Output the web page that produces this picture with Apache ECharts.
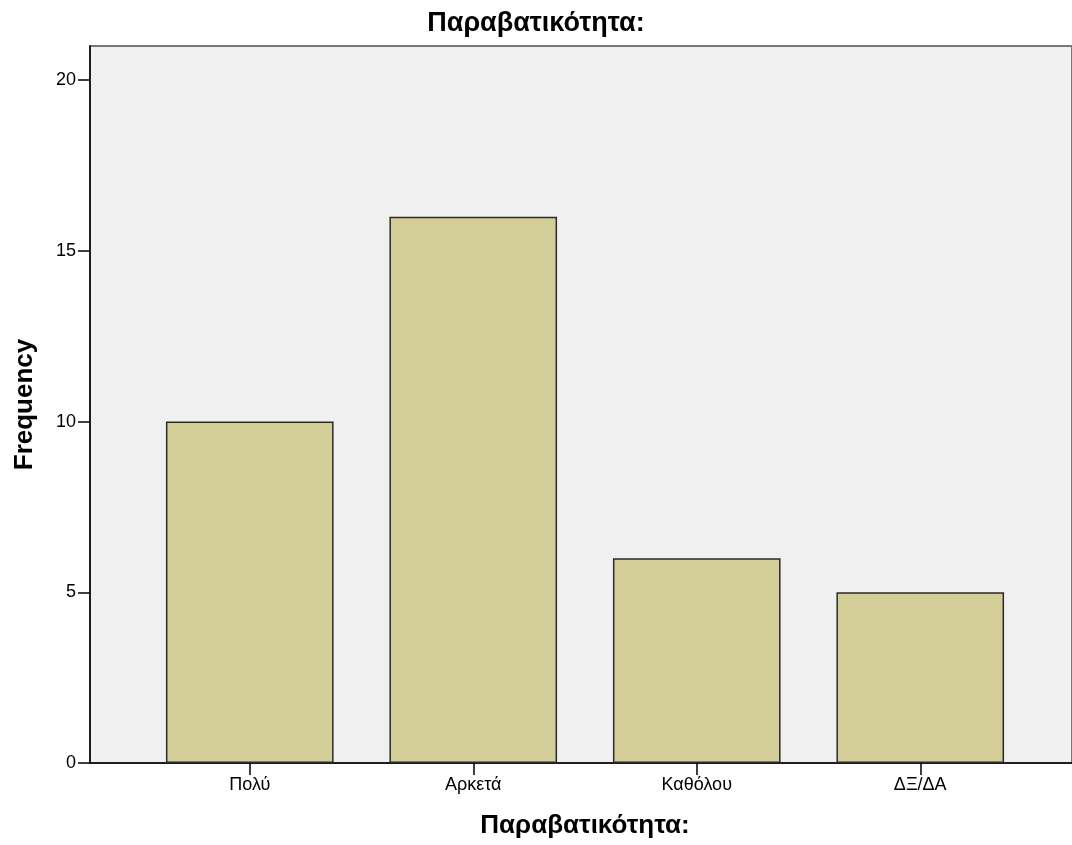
<!DOCTYPE html>
<html><head><meta charset="utf-8">
<script src="https://cdn.jsdelivr.net/npm/echarts@6/dist/echarts.min.js"></script>
<style>html,body{margin:0;padding:0;background:#fff}#c{width:1072px;height:845px}</style>
</head><body><div id="c"></div>
<script>
const categories = ['Πολύ', 'Αρκετά', 'Καθόλου', 'ΔΞ/ΔΑ'];
const frequency = [10, 16, 6, 5];
const titleText = 'Παραβατικότητα:';
const yName = 'Frequency';

const chart = echarts.init(document.getElementById('c'));
const F = 'Liberation Sans, Arial, sans-serif';
chart.setOption({
  animation: false,
  title: { text: titleText, left: 'center', top: 5, textStyle: { fontFamily: F, fontSize: 27, fontWeight: 'bold', color: '#000' } },
  grid: [
    { left: 90, right: 0, top: 46, bottom: 82, show: true, backgroundColor: '#f0f0f0', borderColor: '#777', borderWidth: 2 },
    { left: 138, width: 894, top: 46, bottom: 82 }
  ],
  xAxis: [
    { gridIndex: 0, type: 'value', min: 0, max: 1, axisLine: { show: true, onZero: false, lineStyle: { color: '#000', width: 1.5 } }, axisTick: { show: false }, axisLabel: { show: false }, splitLine: { show: false } },
    { gridIndex: 1, type: 'category', data: categories,
      axisLine: { show: false }, axisTick: { show: true, alignWithLabel: true, length: 12, lineStyle: { color: '#000', width: 1.5 } },
      axisLabel: { fontFamily: F, fontSize: 18, color: '#000', margin: 13 },
      name: titleText, nameLocation: 'middle', nameGap: 50,
      nameTextStyle: { fontFamily: F, fontSize: 26, fontWeight: 'bold', color: '#000' } }
  ],
  yAxis: [
    { gridIndex: 0, type: 'value', min: 0, max: 21, interval: 5,
      axisLine: { show: true, lineStyle: { color: '#000', width: 1.5 } },
      axisTick: { show: true, length: 12, lineStyle: { color: '#000', width: 1.5 } },
      axisLabel: { fontFamily: F, fontSize: 18, color: '#000', margin: 14, showMaxLabel: false },
      splitLine: { show: false },
      name: yName, nameLocation: 'middle', nameGap: 52, nameRotate: 90,
      nameTextStyle: { fontFamily: F, fontSize: 26, fontWeight: 'bold', color: '#000' } },
    { gridIndex: 1, type: 'value', min: 0, max: 21, interval: 5, show: false }
  ],
  series: [{
    type: 'bar', xAxisIndex: 1, yAxisIndex: 1, data: frequency, barWidth: '75%',
    itemStyle: { color: '#d3ce97', borderColor: '#2a2a2a', borderWidth: 1.5 }
  }]
});
</script></body></html>
